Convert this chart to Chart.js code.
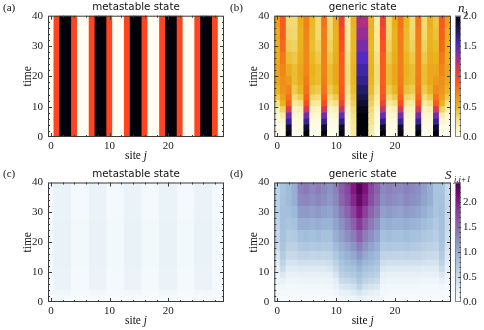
<!DOCTYPE html>
<html>
<head>
<meta charset="utf-8">
<script src="https://cdn.jsdelivr.net/npm/chart.js@4.4.1/dist/chart.umd.min.js"></script>
<style>
  html, body { margin: 0; padding: 0; background: #fff; }
  #wrap { position: relative; width: 484px; height: 330px; overflow: hidden; }
  #wrap canvas { position: absolute; left: 0; top: 0; }
</style>
</head>
<body>
<div id="wrap">
  <canvas id="cA" width="484" height="330"></canvas>
  <canvas id="cB" width="484" height="330"></canvas>
  <canvas id="cC" width="484" height="330"></canvas>
  <canvas id="cD" width="484" height="330"></canvas>
  <canvas id="cbN" width="484" height="330"></canvas>
  <canvas id="cbS" width="484" height="330"></canvas>
</div>
<script>
// sites j = 0..29
const sites = Array.from({ length: 30 }, (_, j) => String(j));

// time rows (edges) used by the panels
const tEdgesMeta = [0, 40];
const tEdgesMetaS = [0, 2, 4, 12, 28, 40];
const tEdges = [0, 2, 4, 6, 8, 10, 12, 14, 17, 20, 24, 28, 32, 36, 40];

// (a) occupation, metastable state (constant in time)
const nMeta = [0, 1, 2, 2, 1, 0, 0, 1, 2, 2, 1, 0, 0, 1, 2, 2, 1, 0, 0, 1, 2, 2, 1, 0, 0, 1, 2, 2, 1, 0];

// (b) occupation, generic state: one list per site, rows of tEdges from bottom to top
const nGeneric = [
  [0.02, 0.03, 0.05, 0.09, 0.17, 0.28, 0.40, 0.50, 0.56, 0.58, 0.54, 0.52, 0.55, 0.60],
  [0.03, 0.05, 0.10, 0.20, 0.35, 0.50, 0.60, 0.65, 0.68, 0.72, 0.78, 0.85, 0.90, 0.92],
  [2.00, 1.88, 1.62, 1.42, 1.12, 0.92, 0.80, 0.72, 0.62, 0.54, 0.45, 0.38, 0.34, 0.32],
  [0.02, 0.03, 0.05, 0.08, 0.13, 0.22, 0.31, 0.40, 0.46, 0.46, 0.41, 0.36, 0.33, 0.32],
  [0.02, 0.03, 0.05, 0.09, 0.16, 0.28, 0.40, 0.50, 0.56, 0.57, 0.54, 0.52, 0.52, 0.54],
  [2.00, 1.88, 1.62, 1.42, 1.15, 0.98, 0.88, 0.80, 0.76, 0.72, 0.70, 0.70, 0.72, 0.74],
  [0.02, 0.03, 0.05, 0.09, 0.14, 0.24, 0.34, 0.44, 0.50, 0.52, 0.49, 0.46, 0.47, 0.49],
  [0.02, 0.03, 0.05, 0.08, 0.13, 0.22, 0.31, 0.40, 0.46, 0.46, 0.41, 0.36, 0.33, 0.32],
  [2.00, 1.88, 1.62, 1.42, 1.15, 0.98, 0.88, 0.80, 0.76, 0.74, 0.74, 0.75, 0.77, 0.80],
  [0.02, 0.03, 0.05, 0.08, 0.13, 0.22, 0.31, 0.40, 0.46, 0.46, 0.41, 0.36, 0.33, 0.32],
  [0.02, 0.03, 0.05, 0.09, 0.16, 0.28, 0.40, 0.50, 0.56, 0.57, 0.54, 0.52, 0.52, 0.54],
  [2.00, 1.90, 1.66, 1.46, 1.20, 1.05, 0.96, 0.92, 0.90, 0.90, 0.92, 0.96, 1.00, 1.05],
  [0.03, 0.04, 0.06, 0.08, 0.12, 0.17, 0.22, 0.27, 0.30, 0.30, 0.28, 0.25, 0.23, 0.22],
  [0.22, 0.24, 0.26, 0.28, 0.32, 0.37, 0.42, 0.47, 0.50, 0.51, 0.50, 0.49, 0.50, 0.52],
  [2.00, 2.00, 2.00, 2.00, 1.95, 1.88, 1.80, 1.72, 1.64, 1.58, 1.50, 1.40, 1.32, 1.26],
  [2.00, 2.00, 2.00, 2.00, 1.95, 1.88, 1.80, 1.72, 1.64, 1.58, 1.50, 1.40, 1.32, 1.26],
  [0.22, 0.24, 0.26, 0.28, 0.32, 0.37, 0.42, 0.47, 0.50, 0.51, 0.50, 0.49, 0.50, 0.52],
  [0.03, 0.04, 0.06, 0.08, 0.12, 0.17, 0.22, 0.27, 0.30, 0.30, 0.28, 0.25, 0.23, 0.22],
  [2.00, 1.90, 1.66, 1.46, 1.20, 1.05, 0.96, 0.92, 0.90, 0.90, 0.92, 0.96, 1.00, 1.05],
  [0.02, 0.03, 0.05, 0.08, 0.13, 0.22, 0.31, 0.40, 0.46, 0.46, 0.41, 0.36, 0.33, 0.32],
  [0.02, 0.03, 0.05, 0.09, 0.16, 0.28, 0.40, 0.50, 0.56, 0.57, 0.54, 0.52, 0.52, 0.54],
  [2.00, 1.88, 1.62, 1.42, 1.15, 0.98, 0.88, 0.80, 0.76, 0.74, 0.74, 0.75, 0.77, 0.80],
  [0.02, 0.03, 0.05, 0.09, 0.14, 0.24, 0.34, 0.44, 0.50, 0.52, 0.49, 0.46, 0.47, 0.49],
  [0.02, 0.03, 0.05, 0.08, 0.13, 0.22, 0.31, 0.40, 0.46, 0.46, 0.41, 0.36, 0.33, 0.32],
  [2.00, 1.88, 1.62, 1.42, 1.15, 0.98, 0.88, 0.80, 0.76, 0.74, 0.74, 0.75, 0.77, 0.80],
  [0.02, 0.03, 0.05, 0.08, 0.13, 0.22, 0.31, 0.40, 0.46, 0.46, 0.41, 0.36, 0.33, 0.32],
  [0.02, 0.03, 0.05, 0.09, 0.16, 0.28, 0.40, 0.50, 0.56, 0.57, 0.54, 0.52, 0.52, 0.54],
  [2.00, 1.88, 1.62, 1.42, 1.12, 0.92, 0.80, 0.70, 0.62, 0.56, 0.52, 0.47, 0.44, 0.42],
  [0.03, 0.05, 0.10, 0.20, 0.35, 0.50, 0.60, 0.65, 0.68, 0.72, 0.78, 0.85, 0.90, 0.92],
  [0.02, 0.03, 0.05, 0.09, 0.17, 0.28, 0.40, 0.50, 0.56, 0.58, 0.54, 0.52, 0.55, 0.60]
];

// (c) bond entropy, metastable state: rows of tEdgesMetaS
const sMeta = [
  [0.01, 0.03, 0.05, 0.06, 0.05],
  [0.03, 0.08, 0.16, 0.19, 0.17], [0.03, 0.08, 0.16, 0.19, 0.17], [0.03, 0.08, 0.16, 0.19, 0.17],
  [0.01, 0.03, 0.05, 0.06, 0.05], [0.01, 0.03, 0.05, 0.06, 0.05], [0.01, 0.03, 0.05, 0.06, 0.05],
  [0.03, 0.08, 0.16, 0.19, 0.17], [0.03, 0.08, 0.16, 0.19, 0.17], [0.03, 0.08, 0.16, 0.19, 0.17],
  [0.01, 0.03, 0.05, 0.06, 0.05], [0.01, 0.03, 0.05, 0.06, 0.05], [0.01, 0.03, 0.05, 0.06, 0.05],
  [0.03, 0.08, 0.16, 0.19, 0.17], [0.03, 0.08, 0.16, 0.19, 0.17], [0.03, 0.08, 0.16, 0.19, 0.17],
  [0.01, 0.03, 0.05, 0.06, 0.05], [0.01, 0.03, 0.05, 0.06, 0.05], [0.01, 0.03, 0.05, 0.06, 0.05],
  [0.03, 0.08, 0.16, 0.19, 0.17], [0.03, 0.08, 0.16, 0.19, 0.17], [0.03, 0.08, 0.16, 0.19, 0.17],
  [0.01, 0.03, 0.05, 0.06, 0.05], [0.01, 0.03, 0.05, 0.06, 0.05], [0.01, 0.03, 0.05, 0.06, 0.05],
  [0.03, 0.08, 0.16, 0.19, 0.17], [0.03, 0.08, 0.16, 0.19, 0.17], [0.03, 0.08, 0.16, 0.19, 0.17],
  [0.01, 0.03, 0.05, 0.06, 0.05], [0.01, 0.03, 0.05, 0.06, 0.05]
];

// (d) bond entropy, generic state: rows of tEdges
const sGeneric = [
  [0.02, 0.03, 0.05, 0.08, 0.12, 0.20, 0.30, 0.40, 0.50, 0.55, 0.60, 0.62, 0.62, 0.60],
  [0.03, 0.05, 0.10, 0.20, 0.35, 0.50, 0.60, 0.70, 0.78, 0.82, 0.85, 0.85, 0.82, 0.80],
  [0.02, 0.04, 0.07, 0.12, 0.20, 0.30, 0.40, 0.52, 0.62, 0.70, 0.78, 0.85, 0.90, 0.90],
  [0.02, 0.04, 0.07, 0.12, 0.20, 0.30, 0.40, 0.52, 0.62, 0.72, 0.82, 0.92, 1.00, 1.02],
  [0.02, 0.04, 0.08, 0.13, 0.22, 0.33, 0.45, 0.58, 0.72, 0.85, 1.00, 1.15, 1.28, 1.35],
  [0.02, 0.04, 0.08, 0.13, 0.22, 0.33, 0.45, 0.60, 0.75, 0.88, 1.02, 1.18, 1.32, 1.40],
  [0.02, 0.04, 0.08, 0.13, 0.22, 0.33, 0.45, 0.58, 0.72, 0.84, 0.98, 1.12, 1.25, 1.30],
  [0.02, 0.04, 0.08, 0.13, 0.22, 0.33, 0.45, 0.60, 0.75, 0.88, 1.02, 1.18, 1.32, 1.38],
  [0.02, 0.04, 0.08, 0.13, 0.22, 0.33, 0.45, 0.58, 0.72, 0.84, 0.98, 1.12, 1.25, 1.30],
  [0.03, 0.06, 0.10, 0.16, 0.25, 0.36, 0.48, 0.60, 0.72, 0.84, 0.96, 1.08, 1.18, 1.22],
  [0.05, 0.10, 0.18, 0.28, 0.40, 0.52, 0.62, 0.75, 0.88, 1.00, 1.10, 1.20, 1.30, 1.35],
  [0.10, 0.20, 0.35, 0.50, 0.62, 0.72, 0.80, 0.90, 1.00, 1.12, 1.25, 1.40, 1.55, 1.60],
  [0.12, 0.25, 0.40, 0.55, 0.68, 0.78, 0.88, 0.98, 1.10, 1.25, 1.40, 1.55, 1.70, 1.75],
  [0.15, 0.30, 0.45, 0.60, 0.72, 0.82, 0.92, 1.05, 1.20, 1.38, 1.58, 1.78, 1.95, 2.05],
  [0.20, 0.40, 0.60, 0.75, 0.85, 0.95, 1.05, 1.20, 1.38, 1.60, 1.85, 2.05, 2.25, 2.35],
  [0.15, 0.30, 0.45, 0.60, 0.72, 0.82, 0.92, 1.05, 1.20, 1.38, 1.60, 1.80, 2.00, 2.10],
  [0.12, 0.25, 0.40, 0.55, 0.68, 0.78, 0.88, 0.98, 1.10, 1.25, 1.40, 1.55, 1.70, 1.75],
  [0.10, 0.20, 0.35, 0.50, 0.62, 0.72, 0.80, 0.90, 1.00, 1.12, 1.25, 1.40, 1.52, 1.58],
  [0.03, 0.06, 0.10, 0.16, 0.25, 0.36, 0.48, 0.60, 0.72, 0.84, 0.98, 1.12, 1.25, 1.30],
  [0.02, 0.04, 0.08, 0.13, 0.22, 0.33, 0.45, 0.60, 0.75, 0.88, 1.02, 1.18, 1.30, 1.35],
  [0.02, 0.04, 0.08, 0.13, 0.22, 0.33, 0.45, 0.58, 0.72, 0.84, 0.98, 1.12, 1.25, 1.30],
  [0.02, 0.04, 0.08, 0.13, 0.22, 0.33, 0.45, 0.58, 0.72, 0.84, 0.98, 1.10, 1.22, 1.28],
  [0.02, 0.04, 0.08, 0.13, 0.22, 0.33, 0.45, 0.60, 0.75, 0.88, 1.02, 1.16, 1.30, 1.35],
  [0.02, 0.04, 0.08, 0.13, 0.22, 0.33, 0.45, 0.58, 0.72, 0.84, 0.98, 1.12, 1.25, 1.30],
  [0.02, 0.04, 0.08, 0.13, 0.22, 0.33, 0.45, 0.58, 0.70, 0.82, 0.95, 1.08, 1.20, 1.25],
  [0.02, 0.04, 0.07, 0.12, 0.20, 0.30, 0.42, 0.54, 0.65, 0.76, 0.88, 1.00, 1.10, 1.12],
  [0.02, 0.04, 0.07, 0.12, 0.20, 0.30, 0.40, 0.52, 0.62, 0.72, 0.82, 0.92, 1.00, 1.02],
  [0.02, 0.04, 0.07, 0.12, 0.20, 0.30, 0.40, 0.50, 0.60, 0.66, 0.72, 0.78, 0.80, 0.80],
  [0.03, 0.05, 0.10, 0.20, 0.35, 0.50, 0.60, 0.70, 0.78, 0.82, 0.85, 0.85, 0.82, 0.80],
  [0.02, 0.03, 0.05, 0.08, 0.12, 0.20, 0.28, 0.35, 0.42, 0.48, 0.52, 0.55, 0.55, 0.52]
];

const timeTicks = [0, 10, 20, 30, 40];

// colour maps
const sunsetStops = [
  [0, [255, 255, 242]], [0.25, [246, 232, 150]], [0.5, [232, 182, 30]], [0.75, [242, 126, 26]],
  [1, [255, 68, 34]], [1.25, [178, 48, 128]], [1.5, [82, 42, 198]], [1.75, [30, 26, 92]], [2, [2, 2, 10]]
];
const bupuStops = [
  [0, [247, 252, 253]], [0.3, [224, 236, 244]], [0.6, [191, 211, 230]], [0.9, [158, 188, 218]],
  [1.2, [140, 150, 198]], [1.5, [140, 107, 177]], [1.8, [136, 65, 157]], [2.1, [129, 15, 124]], [2.4, [77, 0, 75]]
];

function colorAt(stops, v) {
  if (v <= stops[0][0]) return 'rgb(' + stops[0][1].join(',') + ')';
  for (let i = 1; i < stops.length; i++) {
    if (v <= stops[i][0]) {
      const f = (v - stops[i-1][0]) / (stops[i][0] - stops[i-1][0]);
      const c = stops[i-1][1].map((a, k) => Math.round(a + (stops[i][1][k] - a) * f));
      return 'rgb(' + c.join(',') + ')';
    }
  }
  return 'rgb(' + stops[stops.length-1][1].join(',') + ')';
}
const sunset = v => colorAt(sunsetStops, v);
const bupu = v => colorAt(bupuStops, v);

const serif = '"Liberation Serif", "DejaVu Serif", serif';
const sans = '"DejaVu Sans", sans-serif';
const ink = '#222';

function heatDatasets(edges, cols, cmap) {
  const out = [];
  for (let r = 0; r < edges.length - 1; r++) {
    out.push({
      data: cols.map(() => edges[r+1] - edges[r]),
      backgroundColor: cols.map(c => cmap(c[r])),
      borderWidth: 0,
      barPercentage: 1,
      categoryPercentage: 1
    });
  }
  return out;
}

// frame, inner tick marks and labels
const framePlugin = {
  id: 'frame',
  afterDatasetsDraw(chart, args, o) {
    const { ctx, chartArea: a, scales: { x, y } } = chart;
    ctx.save();
    ctx.strokeStyle = '#3a3a3a';
    ctx.lineWidth = 1;
    ctx.beginPath();
    for (let j = 0; j < 30; j += 2) {
      const px = Math.round(x.getPixelForValue(j)) + 0.5;
      const len = j % 10 === 0 ? 4 : 2;
      ctx.moveTo(px, a.bottom); ctx.lineTo(px, a.bottom - len);
      ctx.moveTo(px, a.top); ctx.lineTo(px, a.top + len);
    }
    for (let t = 2; t < 40; t += 2) {
      const py = Math.round(y.getPixelForValue(t)) + 0.5;
      const len = t % 10 === 0 ? 4 : 2;
      ctx.moveTo(a.left, py); ctx.lineTo(a.left + len, py);
      ctx.moveTo(a.right, py); ctx.lineTo(a.right - len, py);
    }
    ctx.stroke();
    ctx.strokeRect(a.left + 0.5, a.top + 0.5, a.right - a.left - 1, a.bottom - a.top - 1);

    ctx.fillStyle = '#111';
    ctx.textBaseline = 'middle';
    ctx.textAlign = 'center';
    ctx.font = '10.3px ' + sans;
    ctx.fillText(o.title, (a.left + a.right) / 2, a.top - 8);

    ctx.textAlign = 'left';
    ctx.font = '11px ' + serif;
    ctx.fillText(o.tag, o.tagX, a.top - 8);

    // x label "site j"
    ctx.font = '11.5px ' + serif;
    const w1 = ctx.measureText('site ').width;
    ctx.font = 'italic 11.5px ' + serif;
    const w2 = ctx.measureText('j').width;
    const sx = (a.left + a.right) / 2 - (w1 + w2) / 2;
    ctx.font = '11.5px ' + serif;
    ctx.fillText('site ', sx, a.bottom + 19);
    ctx.font = 'italic 11.5px ' + serif;
    ctx.fillText('j', sx + w1, a.bottom + 19);

    // y label "time"
    ctx.translate(a.left - 20, (a.top + a.bottom) / 2);
    ctx.rotate(-Math.PI / 2);
    ctx.textAlign = 'center';
    ctx.font = '11.5px ' + serif;
    ctx.fillText('time', 0, 0);
    ctx.restore();
  }
};

function heatChart(id, edges, cols, cmap, area, text) {
  return new Chart(document.getElementById(id), {
    type: 'bar',
    data: { labels: sites, datasets: heatDatasets(edges, cols, cmap) },
    plugins: [framePlugin],
    options: {
      responsive: false,
      animation: false,
      events: [],
      layout: { padding: { left: area.l - 30, right: 484 - area.r, top: area.t, bottom: 330 - area.b - 20 } },
      plugins: { legend: { display: false }, tooltip: { enabled: false }, frame: text },
      scales: {
        x: {
          stacked: true,
          grid: { display: false, drawTicks: false },
          border: { display: false },
          ticks: {
            autoSkip: false, maxRotation: 0, padding: 3, color: ink,
            font: { family: serif, size: 11 },
            callback: (v, i) => (i % 10 === 0 ? String(i) : '')
          },
          afterFit: s => { s.height = 20; }
        },
        y: {
          stacked: true, min: 0, max: 40,
          grid: { display: false, drawTicks: false },
          border: { display: false },
          ticks: { stepSize: 10, padding: 5, color: ink, font: { family: serif, size: 11 } },
          afterBuildTicks: s => { s.ticks = timeTicks.map(v => ({ value: v })); },
          afterFit: s => { s.width = 30; }
        }
      }
    }
  });
}

function colorbar(id, cmap, max, area, label) {
  return new Chart(document.getElementById(id), {
    type: 'bar',
    data: {
      labels: [label.name],
      datasets: [{
        data: [[0, max]],
        borderWidth: 0,
        barPercentage: 1,
        categoryPercentage: 1,
        backgroundColor: c => {
          const ch = c.chart;
          if (!ch.chartArea) return '#fff';
          const ys = ch.scales.y;
          const g = ch.ctx.createLinearGradient(0, ys.getPixelForValue(0), 0, ys.getPixelForValue(max));
          for (let k = 0; k <= 24; k++) g.addColorStop(k / 24, cmap(max * k / 24));
          return g;
        }
      }]
    },
    plugins: [{
      id: 'cbframe',
      afterDatasetsDraw(chart) {
        const { ctx, chartArea: a, scales: { y } } = chart;
        ctx.save();
        ctx.strokeStyle = '#888';
        ctx.lineWidth = 1;
        ctx.strokeRect(a.left + 0.5, a.top + 0.5, a.right - a.left - 1, a.bottom - a.top - 1);
        ctx.strokeStyle = '#444';
        ctx.beginPath();
        for (let k = 1; k * 0.1 < max - 0.01; k++) {
          const py = Math.round(y.getPixelForValue(k * 0.1)) + 0.5;
          const len = k % 5 === 0 ? 3 : 1.5;
          ctx.moveTo(a.right, py); ctx.lineTo(a.right - len, py);
        }
        ctx.stroke();
        label.draw(ctx, a);
        ctx.restore();
      }
    }],
    options: {
      responsive: false,
      animation: false,
      events: [],
      layout: { padding: { left: area.l, right: 484 - area.r - 23, top: area.t, bottom: 330 - area.b } },
      plugins: { legend: { display: false }, tooltip: { enabled: false } },
      scales: {
        x: { display: false },
        y: {
          position: 'right', min: 0, max: max,
          grid: { display: false, drawTicks: false },
          border: { display: false },
          ticks: { padding: 2, color: ink, font: { family: serif, size: 11 }, callback: v => v.toFixed(1) },
          afterBuildTicks: s => { s.ticks = [0, 0.5, 1, 1.5, 2].map(v => ({ value: v })); },
          afterFit: s => { s.width = 23; }
        }
      }
    }
  });
}

heatChart('cA', tEdgesMeta, nMeta.map(v => [v]), sunset, { l: 48, r: 224, t: 15.7, b: 137 },
  { title: 'metastable state', tag: '(a)', tagX: 3 });
heatChart('cB', tEdges, nGeneric, sunset, { l: 274.3, r: 451, t: 15.7, b: 137 },
  { title: 'generic state', tag: '(b)', tagX: 230 });
heatChart('cC', tEdgesMetaS, sMeta, bupu, { l: 48, r: 224, t: 182.5, b: 302 },
  { title: 'metastable state', tag: '(c)', tagX: 3 });
heatChart('cD', tEdges, sGeneric, bupu, { l: 274.3, r: 451, t: 182.5, b: 302 },
  { title: 'generic state', tag: '(d)', tagX: 230 });

colorbar('cbN', sunset, 2, { l: 455, r: 461, t: 15.7, b: 137 }, {
  name: 'n',
  draw(ctx, a) {
    ctx.fillStyle = '#111';
    ctx.textBaseline = 'alphabetic';
    ctx.font = 'italic 13px ' + serif;
    ctx.fillText('n', a.left + 3, a.top - 4);
    ctx.font = 'italic 9px ' + serif;
    ctx.fillText('j', a.left + 10, a.top - 1);
  }
});
colorbar('cbS', bupu, 2.4, { l: 455, r: 461, t: 182.5, b: 302 }, {
  name: 'S',
  draw(ctx, a) {
    ctx.fillStyle = '#111';
    ctx.textBaseline = 'alphabetic';
    ctx.font = 'italic 13px ' + serif;
    ctx.fillText('S', a.left - 10, a.top - 4);
    ctx.font = 'italic 8.5px ' + serif;
    ctx.fillText('j,j+1', a.left - 1, a.top - 1);
  }
});
</script>
</body>
</html>
